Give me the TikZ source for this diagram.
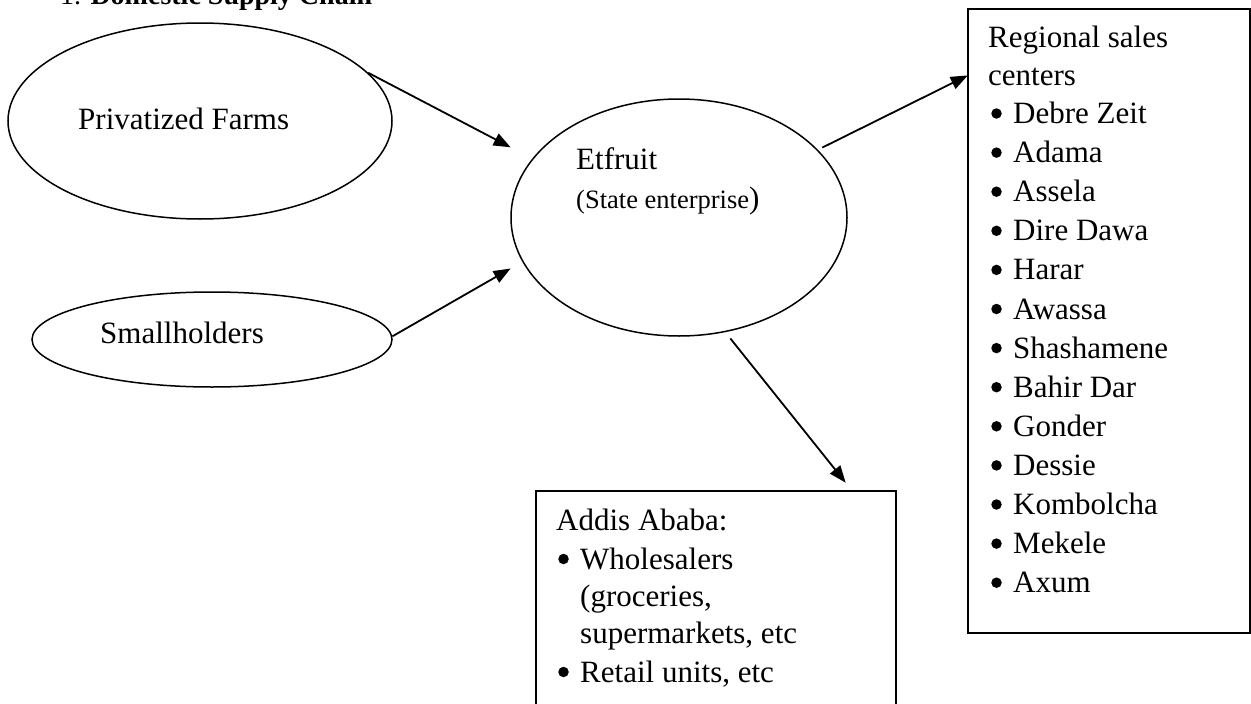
\documentclass[tikz,border=0pt]{standalone}
\usepackage{fontspec}
\setmainfont{Liberation Serif}
\usetikzlibrary{arrows.meta,shapes.geometric}
\begin{document}
\begin{tikzpicture}[x=1pt,y=1pt,
  txt/.style={inner sep=0pt, anchor=base west, font=\fontsize{31}{39}\selectfont},
  small/.style={inner sep=0pt, anchor=base west, font=\fontsize{26.5}{32}\selectfont},
  dot/.style={circle, fill, inner sep=0pt, minimum size=10.5pt},
  oval/.style={ellipse, draw, line width=1.5pt, inner sep=0pt},
  frame/.style={draw, line width=2pt, inner sep=0pt, anchor=north west},
  arr/.style={line width=1.8pt, -{Triangle[length=17pt,width=13pt]}}]
\useasboundingbox (0,0) rectangle (1251,-704);
\clip (0,0) rectangle (1251,-704);

\node[txt, font=\fontsize{28}{34}\selectfont] (title) at (60,-5) {1. \textbf{Domestic Supply Chain}};

\node[oval, minimum width=384pt, minimum height=196pt] (pf) at (200,-121) {};
\node[txt] (pft) at (78,-129) {Privatized Farms};
\node[oval, minimum width=360pt, minimum height=95pt] (sh) at (212,-339.5) {};
\node[txt] (sht) at (100,-343.5) {Smallholders};
\node[oval, minimum width=336pt, minimum height=237pt] (et) at (679,-217.5) {};
\node[txt] (ett) at (576,-169) {Etfruit};
\node[small] (ets) at (576,-208) {(State enterprise\fontsize{31}{39}\selectfont)};

\node[frame, minimum width=282pt, minimum height=624pt] (rsc) at (967,-8) {};
\node[txt] (r0) at (988,-47) {Regional sales};
\node[txt] (r00) at (988,-85) {centers};
\foreach \name [count=\i from 0] in {Debre Zeit, Adama, Assela, Dire Dawa, Harar, Awassa, Shashamene, Bahir Dar, Gonder, Dessie, Kombolcha, Mekele, Axum} {
  \node[dot] (rb\i) at (996.5, {-113.5-39.1*\i}) {};
  \node[txt] (rc\i) at (1013, {-123.5-39.1*\i}) {\name};
}

\node[frame, minimum width=360pt, minimum height=260pt] (aa) at (535,-490) {};
\node[txt] (a0) at (556,-530) {Addis Ababa:};
\node[dot] (a1b) at (563.5,-559) {};
\node[txt] (a1) at (580,-569) {Wholesalers};
\node[txt] (a2) at (580,-606) {(groceries,};
\node[txt] (a3) at (580,-643) {supermarkets, etc};
\node[dot] (a4b) at (563.5,-672) {};
\node[txt] (a4) at (580,-682) {Retail units, etc};

\coordinate (t1) at (510.6,-147.3);
\coordinate (t2) at (510.6,-268.5);
\coordinate (t3) at (967.8,-75.4);
\coordinate (t4) at (845.7,-482.7);
\draw[arr] (pf.16) -- (t1);
\draw[arr] (sh.1) -- (t2);
\draw[arr, shorten <=5pt] (et.26) -- (t3);
\draw[arr, shorten <=8pt] (et.-68) -- (t4);
\end{tikzpicture}
\end{document}
